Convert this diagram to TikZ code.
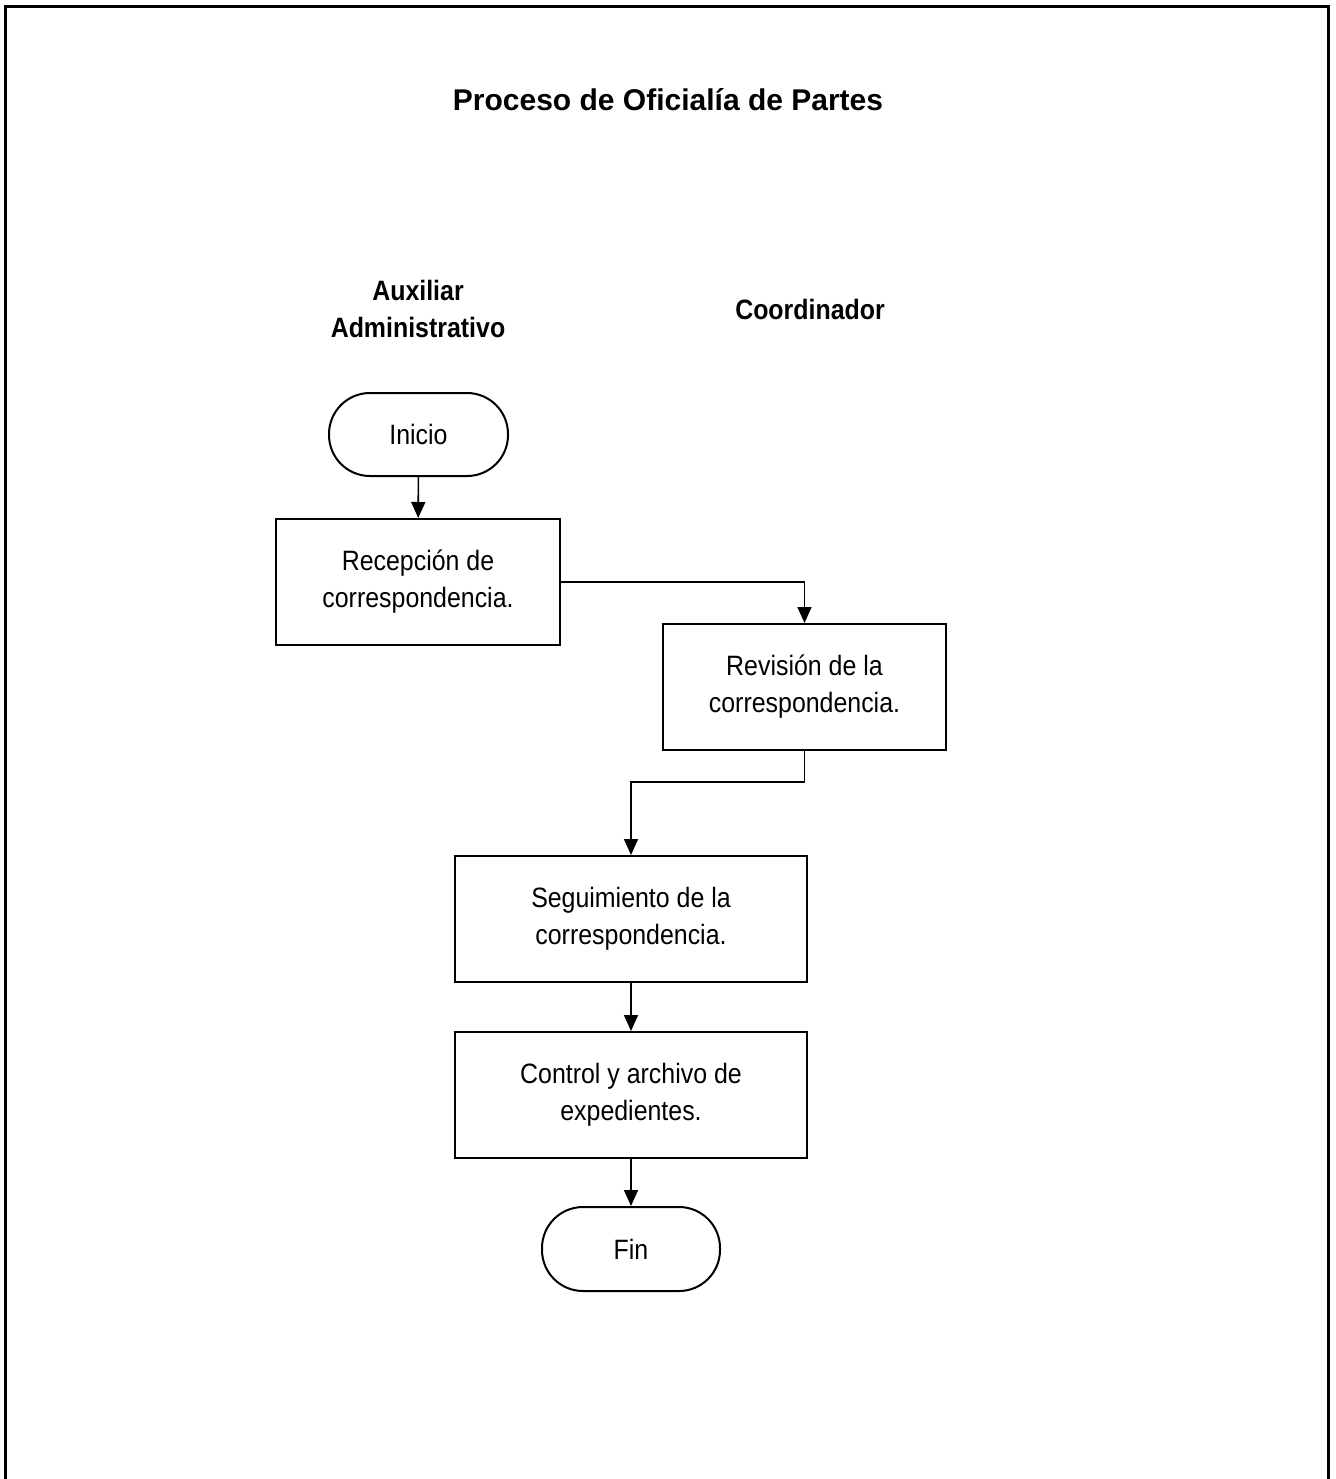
\documentclass[tikz,border=0pt]{standalone}
\usepackage{fontspec}
\setmainfont{Liberation Sans}
\newfontfamily\narrowfont[FakeStretch=0.89]{Liberation Sans}
\usetikzlibrary{arrows.meta}
\begin{document}
\begin{tikzpicture}[x=1pt,y=-1pt,
  box/.style={draw,line width=2pt,rectangle,align=center,inner sep=0pt,
    font=\narrowfont\fontsize{28}{37}\selectfont},
  term/.style={draw,line width=2pt,rectangle,rounded corners=41pt,align=center,inner sep=0pt,
    font=\narrowfont\fontsize{28}{37}\selectfont},
  head/.style={align=center,font=\narrowfont\bfseries\fontsize{28}{37}\selectfont},
  conn/.style={line width=1.6pt,-{Triangle[width=14pt,length=16pt]}}]
\useasboundingbox (0,0) rectangle (1335,1479);
\draw[line width=3pt] (5,1500) -- (5,7) -- (1328,7) -- (1328,1500);
\node[font=\bfseries\fontsize{30}{36}\selectfont] (title) at (668,100) {Proceso de Oficialía de Partes};
\node[head] (aux) at (418,309) {Auxiliar\\Administrativo};
\node[head] (coord) at (810,309) {Coordinador};
\node[term,minimum width=179pt,minimum height=83pt] (ini) at (418.5,434.5) {Inicio};
\node[box,minimum width=284pt,minimum height=126pt] (rec) at (418,582) {Recepción de\\correspondencia.};
\node[box,minimum width=283pt,minimum height=126pt] (rev) at (804.5,687) {Revisión de la\\correspondencia.};
\node[box,minimum width=352pt,minimum height=126pt] (seg) at (631,919) {Seguimiento de la\\correspondencia.};
\node[box,minimum width=352pt,minimum height=126pt] (ctl) at (631,1095) {Control y archivo de\\expedientes.};
\node[term,minimum width=178pt,minimum height=84pt] (fin) at (631,1249) {Fin};
\coordinate (bend) at (804.5,782);
\draw[conn] (ini) -- (rec);
\draw[conn] (rec.east) -| (rev.north);
\draw[conn] (rev.south) -- (bend) -| (seg.north);
\draw[conn] (seg) -- (ctl);
\draw[conn] (ctl) -- (fin);
\end{tikzpicture}
\end{document}
